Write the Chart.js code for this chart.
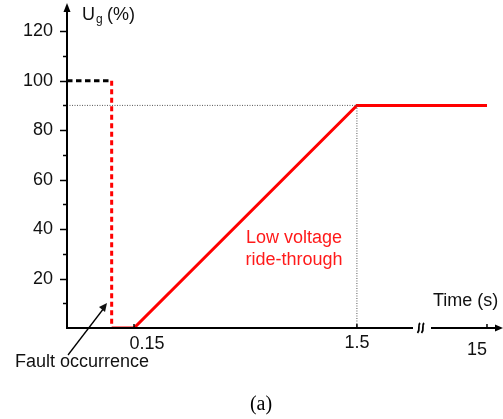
<!DOCTYPE html>
<html>
<head>
<meta charset="utf-8">
<script src="https://cdn.jsdelivr.net/npm/chart.js@4.4.1/dist/chart.umd.min.js"></script>
<style>
  html, body { margin: 0; padding: 0; background: #fff; }
  #wrap { width: 503px; height: 419px; position: relative; }
</style>
</head>
<body>
<div id="wrap"><canvas id="lvrtChart" width="503" height="419"></canvas></div>
<script>
// grid voltage profile (Ug in %) against time (s)
var faultTime = 0.1;
var preFaultTime = [0, faultTime];
var preFaultVoltage = [100, 100];
var faultDropTime = [faultTime, faultTime];
var faultDropVoltage = [100, 0];
var lvrtTime = [faultTime, 0.15, 1.5, 15];
var lvrtVoltage = [0, 0, 90, 90];
var guideTime = [0, 1.5, 1.5];
var guideVoltage = [90, 90, 0];

var xTickValues = [0.15, 1.5, 15];
var xTickLabels = ["0.15", "1.5", "15"];
var yTickValues = [20, 40, 60, 80, 100, 120];
var yMinorTicks = [10, 30, 50, 70, 90, 110];

// the time axis is drawn schematically (broken between 1.5 and 15)
var axisKnotTimes = [0, 0.15, 1.5, 15];
var axisKnotFrac = [0, 0.1544, 0.668, 0.9677];

function toPoints(xs, ys) {
  return xs.map(function (x, i) { return { x: x, y: ys[i] }; });
}

class BrokenTimeScale extends Chart.LinearScale {
  getPixelForValue(value) {
    var t = axisKnotTimes, f = axisKnotFrac, frac;
    if (value <= t[0]) frac = f[0];
    else if (value >= t[t.length - 1]) {
      var n = t.length - 1;
      frac = f[n] + (value - t[n]) * (f[n] - f[n - 1]) / (t[n] - t[n - 1]);
    } else {
      for (var i = 1; i < t.length; i++) {
        if (value <= t[i]) {
          frac = f[i - 1] + (value - t[i - 1]) / (t[i] - t[i - 1]) * (f[i] - f[i - 1]);
          break;
        }
      }
    }
    return this.left + frac * this.width;
  }
  getValueForPixel(pixel) {
    var frac = (pixel - this.left) / this.width;
    var t = axisKnotTimes, f = axisKnotFrac;
    for (var i = 1; i < f.length; i++) {
      if (frac <= f[i]) return t[i - 1] + (frac - f[i - 1]) / (f[i] - f[i - 1]) * (t[i] - t[i - 1]);
    }
    return t[t.length - 1];
  }
}
BrokenTimeScale.id = 'brokenTime';
BrokenTimeScale.defaults = Chart.LinearScale.defaults;
Chart.register(BrokenTimeScale);

var SANS = '"Liberation Sans", Arial, sans-serif';

var schematicAxes = {
  id: 'schematicAxes',
  afterDatasetsDraw: function (chart) {
    var c = chart.ctx, x = chart.scales.x, y = chart.scales.y;
    var x0 = x.getPixelForValue(0), y0 = y.getPixelForValue(0);
    var top = chart.chartArea.top;
    c.save();
    c.strokeStyle = '#000'; c.fillStyle = '#000';
    c.lineWidth = 2;
    // y axis + arrow
    c.beginPath(); c.moveTo(x0, y0 + 1); c.lineTo(x0, top + 6); c.stroke();
    c.beginPath(); c.moveTo(x0, top - 1); c.lineTo(x0 - 3.5, top + 8); c.lineTo(x0 + 3.5, top + 8); c.closePath(); c.fill();
    // x axis with break + arrow
    c.lineWidth = 2;
    c.beginPath(); c.moveTo(x0 - 1, y0); c.lineTo(413, y0); c.stroke();
    c.beginPath(); c.moveTo(431, y0); c.lineTo(497, y0); c.stroke();
    c.beginPath(); c.moveTo(503, y0); c.lineTo(495, y0 - 3.5); c.lineTo(495, y0 + 3.5); c.closePath(); c.fill();
    // break mark
    c.lineWidth = 1.8;
    [418.5, 422.5].forEach(function (bx) {
      c.beginPath();
      c.moveTo(bx + 1.5, y0 - 5);
      c.bezierCurveTo(bx - 1.5, y0 - 2, bx + 2.5, y0 + 1, bx - 1, y0 + 5);
      c.stroke();
    });
    // y tick marks
    c.lineWidth = 1.5;
    yTickValues.forEach(function (v) {
      var py = Math.round(y.getPixelForValue(v)) + 0.5;
      c.beginPath(); c.moveTo(x0 - 7, py); c.lineTo(x0, py); c.stroke();
    });
    yMinorTicks.forEach(function (v) {
      var py = Math.round(y.getPixelForValue(v)) + 0.5;
      c.beginPath(); c.moveTo(x0 - 4, py); c.lineTo(x0, py); c.stroke();
    });
    // x tick marks + labels
    var labelShift = [13, 0, -10], labelBase = [349, 348, 355];
    c.font = '18px ' + SANS; c.textAlign = 'center'; c.textBaseline = 'alphabetic';
    c.fillStyle = '#111';
    xTickValues.forEach(function (v, i) {
      var px = x.getPixelForValue(v);
      c.beginPath(); c.moveTo(px, y0 - 4); c.lineTo(px, y0); c.stroke();
      c.fillText(xTickLabels[i], px + labelShift[i], labelBase[i]);
    });
    // axis titles
    c.textAlign = 'left';
    c.fillText('Time (s)', 433, 306);
    c.fillText('U', 82, 20);
    c.font = '12px ' + SANS;
    c.fillText('g', 96, 23);
    c.font = '18px ' + SANS;
    c.fillText('(%)', 107, 20);
    // fault annotation
    c.fillText('Fault occurrence', 15, 367);
    c.lineWidth = 1.3;
    c.beginPath(); c.moveTo(68, 355); c.lineTo(104, 308); c.stroke();
    c.beginPath(); c.moveTo(107, 303); c.lineTo(99, 307); c.lineTo(105, 312); c.closePath(); c.fill();
    // region label
    c.fillStyle = '#ff1a1a';
    c.textAlign = 'center';
    c.fillText('Low voltage', 294, 243);
    c.fillText('ride-through', 294, 265);
    // caption
    c.fillStyle = '#000';
    c.font = '20px "Liberation Serif", "Times New Roman", serif';
    c.fillText('(a)', 261, 410);
    c.restore();
  }
};

var ctx = document.getElementById('lvrtChart').getContext('2d');
var myChart = new Chart(ctx, {
  type: 'line',
  data: {
    datasets: [
      {
        data: toPoints(guideTime, guideVoltage),
        borderColor: '#555', borderWidth: 1, borderDash: [1, 1.5],
        pointRadius: 0, fill: false
      },
      {
        data: toPoints(preFaultTime, preFaultVoltage),
        borderColor: '#000', borderWidth: 3, borderDash: [5.5, 3.5],
        pointRadius: 0, fill: false
      },
      {
        data: toPoints(faultDropTime, faultDropVoltage),
        borderColor: '#ff0000', borderWidth: 3, borderDash: [5, 3.5],
        pointRadius: 0, fill: false
      },
      {
        data: toPoints(lvrtTime, lvrtVoltage),
        borderColor: '#ff0000', borderWidth: 3,
        pointRadius: 0, fill: false, tension: 0
      }
    ]
  },
  options: {
    responsive: false,
    animation: false,
    layout: { padding: { top: 4, right: 2, bottom: 91, left: 0 } },
    plugins: { legend: { display: false }, tooltip: { enabled: false } },
    scales: {
      x: {
        type: 'brokenTime', min: 0, max: 15.5,
        display: false
      },
      y: {
        type: 'linear', min: 0, max: 131,
        grid: { display: false, drawTicks: false },
        border: { display: false },
        afterFit: function (scale) {
          scale.width = 67;
          scale.paddingTop = 0;
          scale.paddingBottom = 0;
        },
        afterBuildTicks: function (scale) {
          scale.ticks = yTickValues.map(function (v) { return { value: v }; });
        },
        ticks: {
          padding: 14,
          color: '#111',
          font: { family: SANS, size: 18 }
        }
      }
    }
  },
  plugins: [schematicAxes]
});
</script>
</body>
</html>
